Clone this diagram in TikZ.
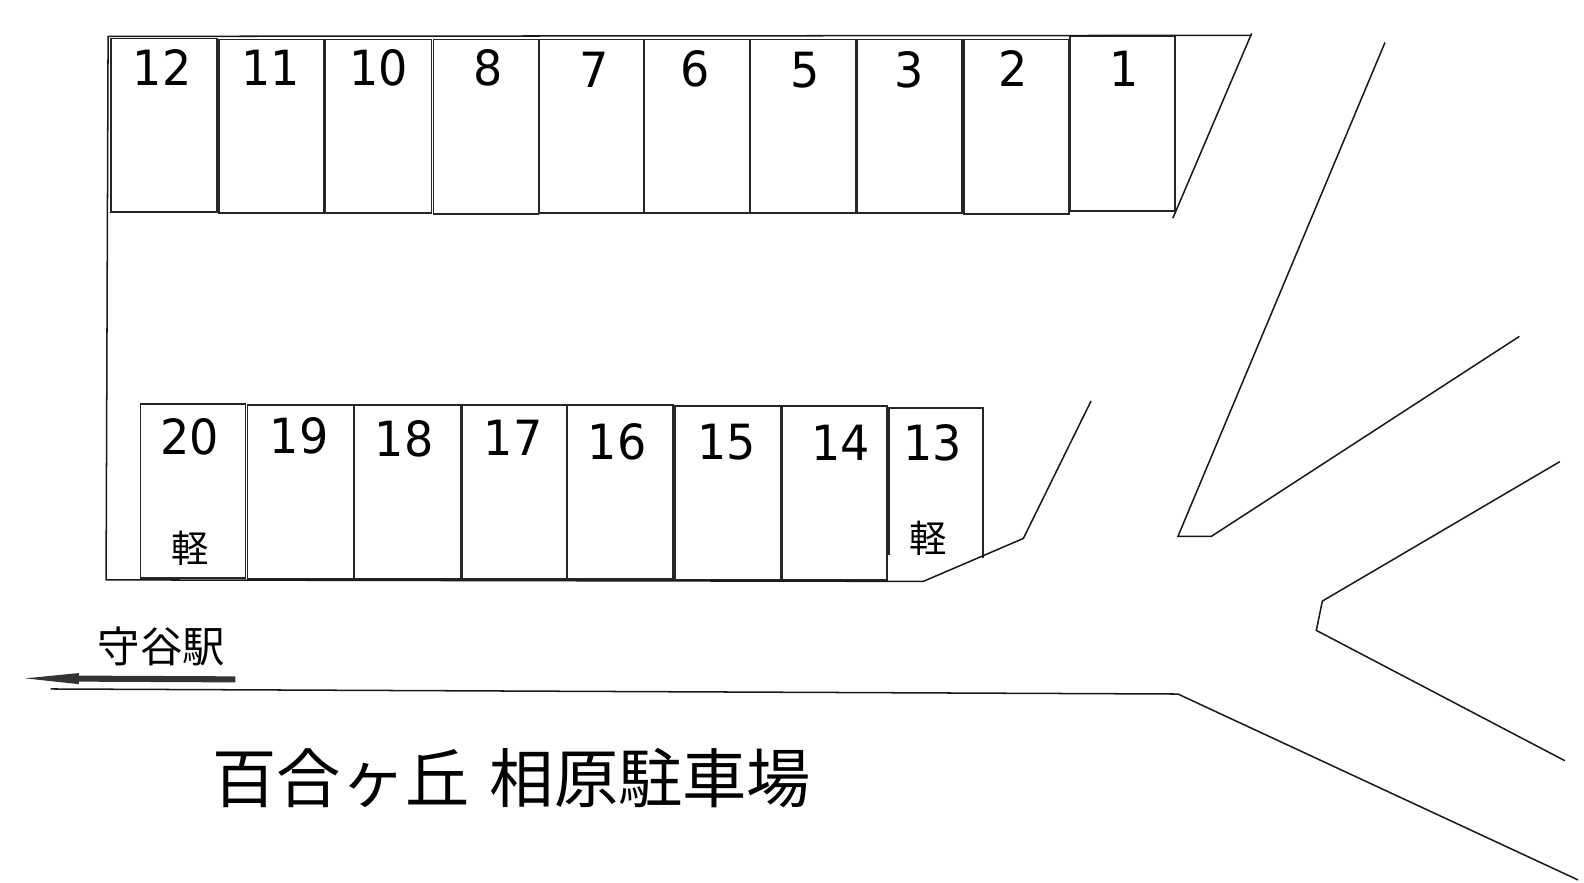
\documentclass[tikz,border=0pt]{standalone}
\usepackage{fontspec}
\usetikzlibrary{arrows.meta}
\newfontfamily\numfont[FakeStretch=0.95]{DejaVu Sans}
\newfontfamily\jpfont{Noto Sans CJK JP}

\begin{document}
\begin{tikzpicture}[x=0.5pt,y=-0.5pt,
    stall/.style={draw=black!85,line width=0.85pt},
    road/.style={draw=black!90,line width=0.75pt},
    num/.style={anchor=base,inner sep=0pt,font=\numfont\fontsize{24}{24}\selectfont},
    kei/.style={inner sep=0pt,font=\jpfont\fontsize{18.5}{18.5}\selectfont}]
  \useasboundingbox (0,0) rectangle (1568,874);

  % upper row
  \draw[stall] (110,38) rectangle (215,210);
  \draw[stall] (216.5,39) rectangle (321,211);
  \draw[stall] (322,39) rectangle (427,211);
  \draw[stall] (429,39) rectangle (533,211.5);
  \draw[stall] (534,39) rectangle (637,211);
  \draw[stall] (638,39) rectangle (742,211);
  \draw[stall] (743,39) rectangle (847,211);
  \draw[stall] (848,39) rectangle (952,211);
  \draw[stall] (954,39) rectangle (1058,211.5);
  \draw[stall] (1059,36) rectangle (1163,209);

  \node[num] (n12) at (160.5,85) {12};
  \node[num] (n11) at (268,85) {11};
  \node[num] (n10) at (375,85) {10};
  \node[num] (n8) at (483,85) {8};
  \node[num] (n7) at (588,87) {7};
  \node[num] (n6) at (688,86) {6};
  \node[num] (n5) at (797,87) {5};
  \node[num] (n3) at (900,87) {3};
  \node[num] (n2) at (1003,86) {2};
  \node[num] (n1) at (1113,86) {1};

  % lower row
  \draw[stall] (139,400) rectangle (243,572);
  \draw[stall] (245,401) rectangle (350,573);
  \draw[stall] (351,401) rectangle (456,573);
  \draw[stall] (457,401) rectangle (561,573);
  \draw[stall] (561,401) rectangle (666,573);
  \draw[stall] (668,402) rectangle (773,574);
  \draw[stall] (774,402) rectangle (878,574);
  \draw[stall] (880,549) -- (880,404) -- (973,404) -- (973,552);

  \node[num] (n20) at (188,449.5) {20};
  \node[num] (n19) at (296,448.5) {19};
  \node[num] (n18) at (400,451.5) {18};
  \node[num] (n17) at (508,450.5) {17};
  \node[num] (n16) at (611,454.5) {16};
  \node[num] (n15) at (719,454.5) {15};
  \node[num] (n14) at (832,455.5) {14};
  \node[num] (n13) at (923,455.5) {13};

  \node[kei] (kei20) at (188,543) {軽};
  \node[kei] (kei13) at (919,533) {軽};

  % lot outline and roads
  \draw[road] (1239,35) -- (107,36) -- (105,574) -- (914,575.5) -- (1013,533) -- (1080,397);
  \draw[road] (1239,33) -- (1161,216);
  \draw[road] (1371,42) -- (1166,531) -- (1199,531) -- (1504,333);
  \draw[road] (50,682) -- (1166,687) -- (1562,871);
  \draw[road] (1544,457) -- (1309,595) -- (1303,624) -- (1549,753);

  % direction arrow
  \coordinate (arrowtail) at (233,672.5);
  \coordinate (arrowtip) at (25,671.5);
  \draw[draw=black!80,line width=3pt,-{Triangle[length=26.5pt,width=5.5pt,line width=0pt]}] (arrowtail) -- (arrowtip);
  \node[inner sep=0pt,font=\jpfont\fontsize{21}{21}\selectfont] (station) at (160,640) {守谷駅};

  \node[inner sep=0pt,anchor=west,font=\jpfont\fontsize{31.8}{31.8}\selectfont] (title) at (210,770) {百合ヶ丘 \hspace{3pt}相原駐車場};
\end{tikzpicture}
\end{document}
